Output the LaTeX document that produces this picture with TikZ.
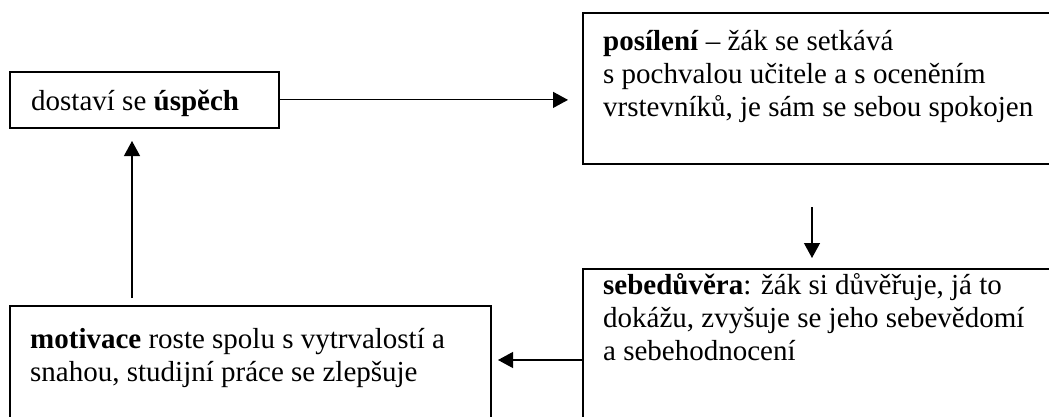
\documentclass[tikz,border=0pt]{standalone}
\usepackage{fontspec}
\setmainfont{Liberation Serif}
\usetikzlibrary{arrows.meta}
\begin{document}
\begin{tikzpicture}[x=1pt,y=-1pt,
  box/.style={draw,line width=1.8pt,inner sep=0pt,anchor=north west},
  txt/.style={anchor=north west,inner sep=0pt,align=left,font=\fontsize{29}{33}\selectfont},
  arr/.style={line width=1.2pt,-{Triangle[length=15pt,width=16pt]}}]
\useasboundingbox (0,0) rectangle (1049,417);
\clip (0,0) rectangle (1049,417);
% boxes
\node[box,minimum width=269pt,minimum height=56pt] (b1) at (9,71) {};
\node[box,minimum width=480pt,minimum height=151pt] (b2) at (582,12) {};
\node[box,minimum width=480pt,minimum height=170pt] (b3) at (582,268) {};
\node[box,minimum width=481pt,minimum height=130pt] (b4) at (9,305) {};
% texts
\node[txt] (t1) at (31,82) {\rule{0pt}{28pt}dostaví se \textbf{úspěch}};
\node[txt] (t2) at (603,22) {\rule{0pt}{28pt}\textbf{posílení} – žák se setkává\\s pochvalou učitele a s oceněním\\vrstevníků, je sám se sebou spokojen};
\node[txt] (t3) at (603,266) {\rule{0pt}{28pt}\textbf{sebedůvěra}: žák si důvěřuje, já to\\dokážu, zvyšuje se jeho sebevědomí\\a sebehodnocení};
\node[txt] (t4) at (30,320) {\rule{0pt}{28pt}\textbf{motivace} roste spolu s vytrvalostí a\\snahou, studijní práce se zlepšuje};
% connector ends
\coordinate (a1e) at (568,98);
\coordinate (a2s) at (812,207);
\coordinate (a2e) at (812,258);
\coordinate (a3e) at (498,360);
\coordinate (a4s) at (132,298);
\coordinate (a4e) at (132,141);
% arrows
\draw[arr] (b1.east) -- (b1.east -| a1e);
\draw[arr] (a2s) -- (a2e);
\draw[arr] (b3.west |- a3e) -- (a3e);
\draw[arr] (a4s) -- (a4e);
\end{tikzpicture}
\end{document}
